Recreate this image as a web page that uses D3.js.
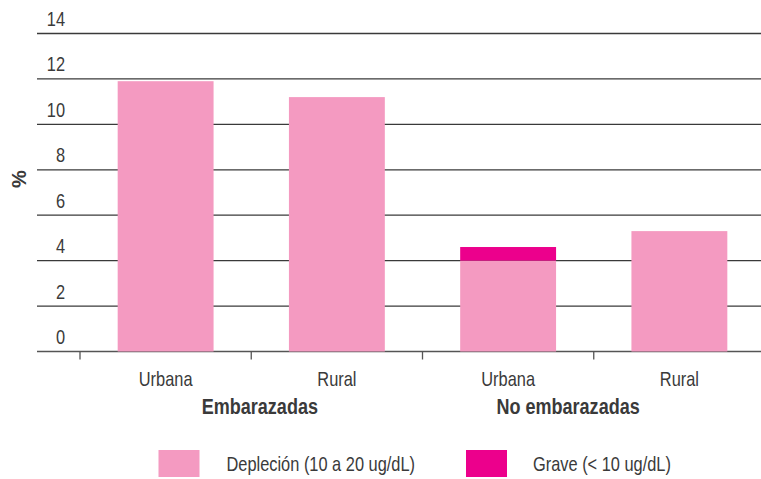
<!DOCTYPE html>
<html>
<head>
<meta charset="utf-8">
<script src="https://cdn.jsdelivr.net/npm/d3@7"></script>
<style>
  html, body { margin: 0; padding: 0; background: #fff; }
  svg { display: block; }
  text { font-family: "Liberation Sans", Arial, sans-serif; fill: #3a3a3a; }
</style>
</head>
<body>
<svg id="chart" width="761" height="479"></svg>
<script>
// Categories and values (% of women)
const categories = ["Emb-Urbana", "Emb-Rural", "NoEmb-Urbana", "NoEmb-Rural"];
const categoryLabels = ["Urbana", "Rural", "Urbana", "Rural"];
const groups = ["Embarazadas", "No embarazadas"];
const depletion = [11.9, 11.2, 4.0, 5.3];   // Depleción (10 a 20 ug/dL)
const severe = [0, 0, 0.6, 0];              // Grave (< 10 ug/dL)
const yTicks = [0, 2, 4, 6, 8, 10, 12, 14];
const seriesNames = ["Depleción (10 a 20 ug/dL)", "Grave (< 10 ug/dL)"];
const seriesColors = ["#f49ac1", "#ec008c"];

const svg = d3.select("#chart");
const W = 761;
const NARROW = 0.82; // horizontal squeeze giving a condensed typeface

// Place a text selection at (x, y) with condensed glyphs
function at(sel, fx, fy) {
  return sel.attr("transform", (d, i) => {
    const px = typeof fx === "function" ? fx(d, i) : fx;
    const py = typeof fy === "function" ? fy(d, i) : fy;
    return `translate(${px},${py}) scale(${NARROW},1)`;
  });
}

const x = d3.scaleBand()
  .domain(categories)
  .range([80, 765])
  .paddingInner(0.44)
  .paddingOuter(0.22);

const y = d3.scaleLinear().domain([0, 14]).range([351.5, 33.5]);

// Horizontal gridlines with value labels sitting above them
const grid = svg.append("g");
grid.selectAll("line").data(yTicks).join("line")
  .attr("x1", 37).attr("x2", W)
  .attr("y1", d => y(d)).attr("y2", d => y(d))
  .attr("stroke", d => d === 0 ? "#555" : "#3a3a3a")
  .attr("stroke-width", 1.3);
at(grid.selectAll("text").data(yTicks).join("text"), 65, d => y(d) - 7.5)
  .attr("text-anchor", "end")
  .attr("font-size", 20)
  .text(d => d);

// Stacked bars
const stack = d3.stack().keys([0, 1]).value((i, k) => [depletion, severe][k][i]);
const layers = stack(d3.range(categories.length));
svg.append("g").selectAll("g").data(layers).join("g")
  .attr("fill", (d, i) => seriesColors[i])
  .selectAll("rect").data(d => d).join("rect")
  .attr("x", (d, i) => x(categories[i]))
  .attr("width", x.bandwidth())
  .attr("y", d => y(d[1]))
  .attr("height", d => y(d[0]) - y(d[1]));

// Baseline ticks at band boundaries
const step = x.step();
const start = x(categories[0]) - x.paddingOuter() * step;
const boundaries = d3.range(categories.length + 1).map(i => start + i * step);
svg.append("g").selectAll("line").data(boundaries).join("line")
  .attr("x1", d => d).attr("x2", d => d)
  .attr("y1", y(0)).attr("y2", y(0) + 8)
  .attr("stroke", "#555").attr("stroke-width", 1.3);

// Category labels
at(svg.append("g").selectAll("text").data(categories).join("text"),
   d => x(d) + x.bandwidth() / 2, 386)
  .attr("text-anchor", "middle")
  .attr("font-size", 20)
  .text((d, i) => categoryLabels[i]);

// Group labels
const groupX = [boundaries[0] + step * 1.05, boundaries[2] + step * 0.85];
at(svg.append("g").selectAll("text").data(groups).join("text"), (d, i) => groupX[i], 414)
  .attr("text-anchor", "middle")
  .attr("font-size", 22)
  .attr("font-weight", "bold")
  .text(d => d);

// Y axis title
svg.append("text")
  .attr("transform", "translate(26,179) rotate(-90)")
  .attr("text-anchor", "middle")
  .attr("font-size", 20)
  .attr("font-weight", "bold")
  .text("%");

// Legend
const legendX = [158.5, 466];
const legend = svg.append("g").selectAll("g").data(seriesNames).join("g")
  .attr("transform", (d, i) => `translate(${legendX[i]},450)`);
legend.append("rect").attr("width", 41).attr("height", 27)
  .attr("fill", (d, i) => seriesColors[i]);
at(legend.append("text"), (d, i) => i === 0 ? 68 : 67, 21)
  .attr("font-size", 20)
  .text(d => d);
</script>
</body>
</html>
